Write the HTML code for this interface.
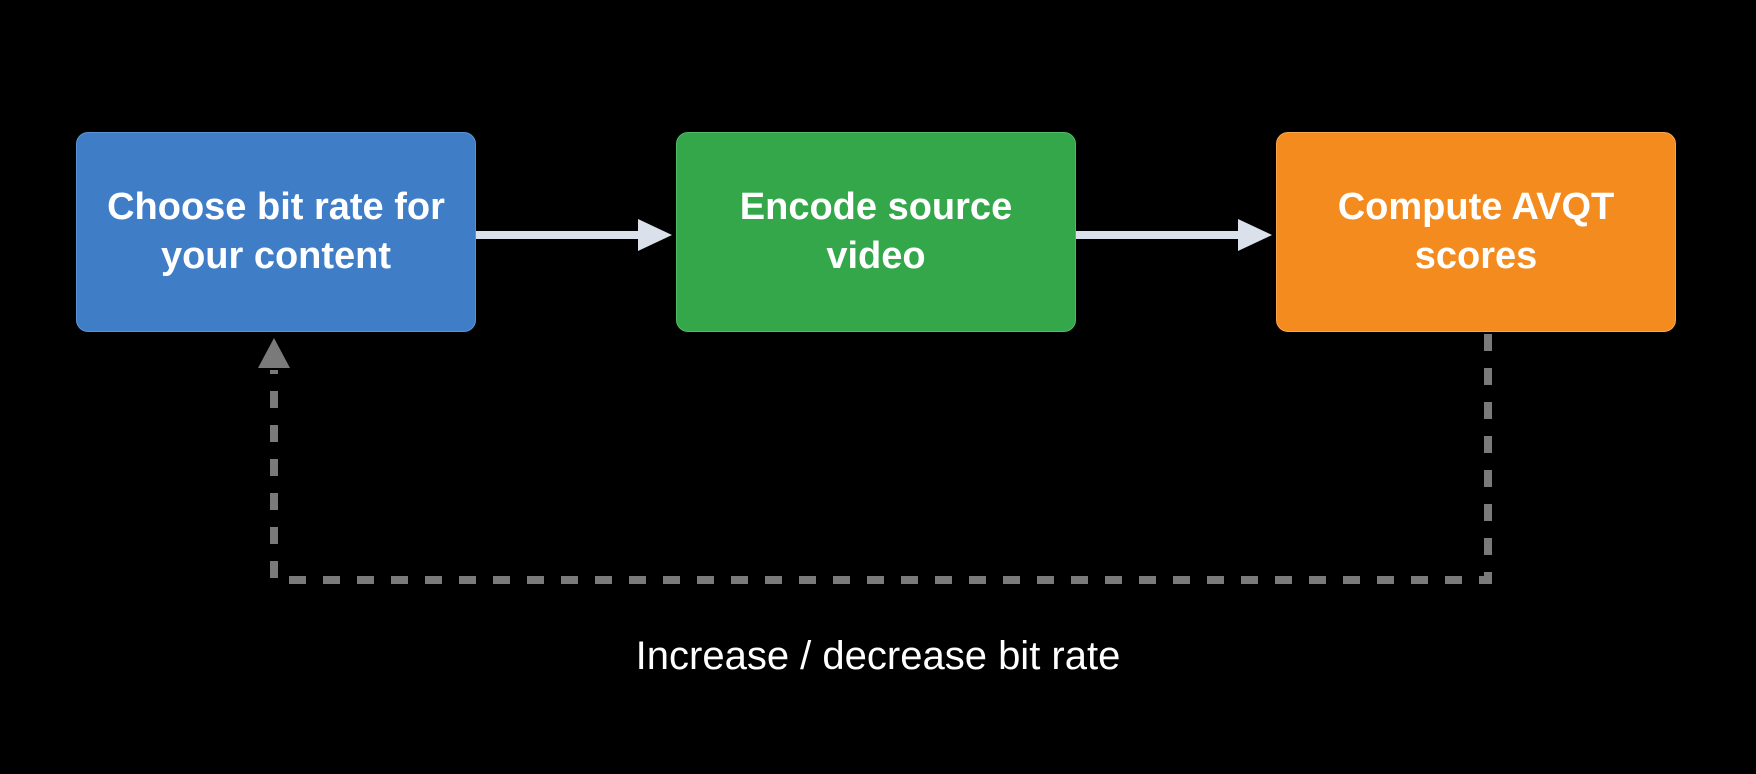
<!DOCTYPE html>
<html><head><style>
body{margin:0;background:#000;width:1756px;height:774px;overflow:hidden;position:relative;font-family:"Liberation Sans",sans-serif}
.b{position:absolute;top:132px;width:400px;height:200px;border-radius:12px;display:flex;align-items:center;justify-content:center;text-align:center;color:#fff;font-size:38px;font-weight:bold;line-height:49px;box-sizing:border-box}
</style></head><body>
<svg width="1756" height="774" style="position:absolute;left:0;top:0">
<line x1="476" y1="235" x2="640" y2="235" stroke="#dbe1ea" stroke-width="8"/>
<polygon points="638,219 672,235 638,251" fill="#dbe1ea"/>
<line x1="1076" y1="235" x2="1240" y2="235" stroke="#dbe1ea" stroke-width="8"/>
<polygon points="1238,219 1272,235 1238,251" fill="#dbe1ea"/>
<polyline points="1488,334 1488,580 274,580 274,370" fill="none" stroke="#7a7a7a" stroke-width="8" stroke-dasharray="17,17"/>
<polygon points="258,368 274,338 290,368" fill="#7a7a7a"/>
</svg>
<div class="b" style="left:76px;background:#3f7ec6;border:1px solid #5b93d6">Choose bit rate for<br>your content</div>
<div class="b" style="left:676px;background:#34a74a;border:1px solid #52b965">Encode source<br>video</div>
<div class="b" style="left:1276px;background:#f38b1f;border:1px solid #f7a650">Compute AVQT<br>scores</div>
<div style="position:absolute;left:0;width:1756px;top:634px;text-align:center;color:#fff;font-size:40px">Increase / decrease bit rate</div>
</body></html>
